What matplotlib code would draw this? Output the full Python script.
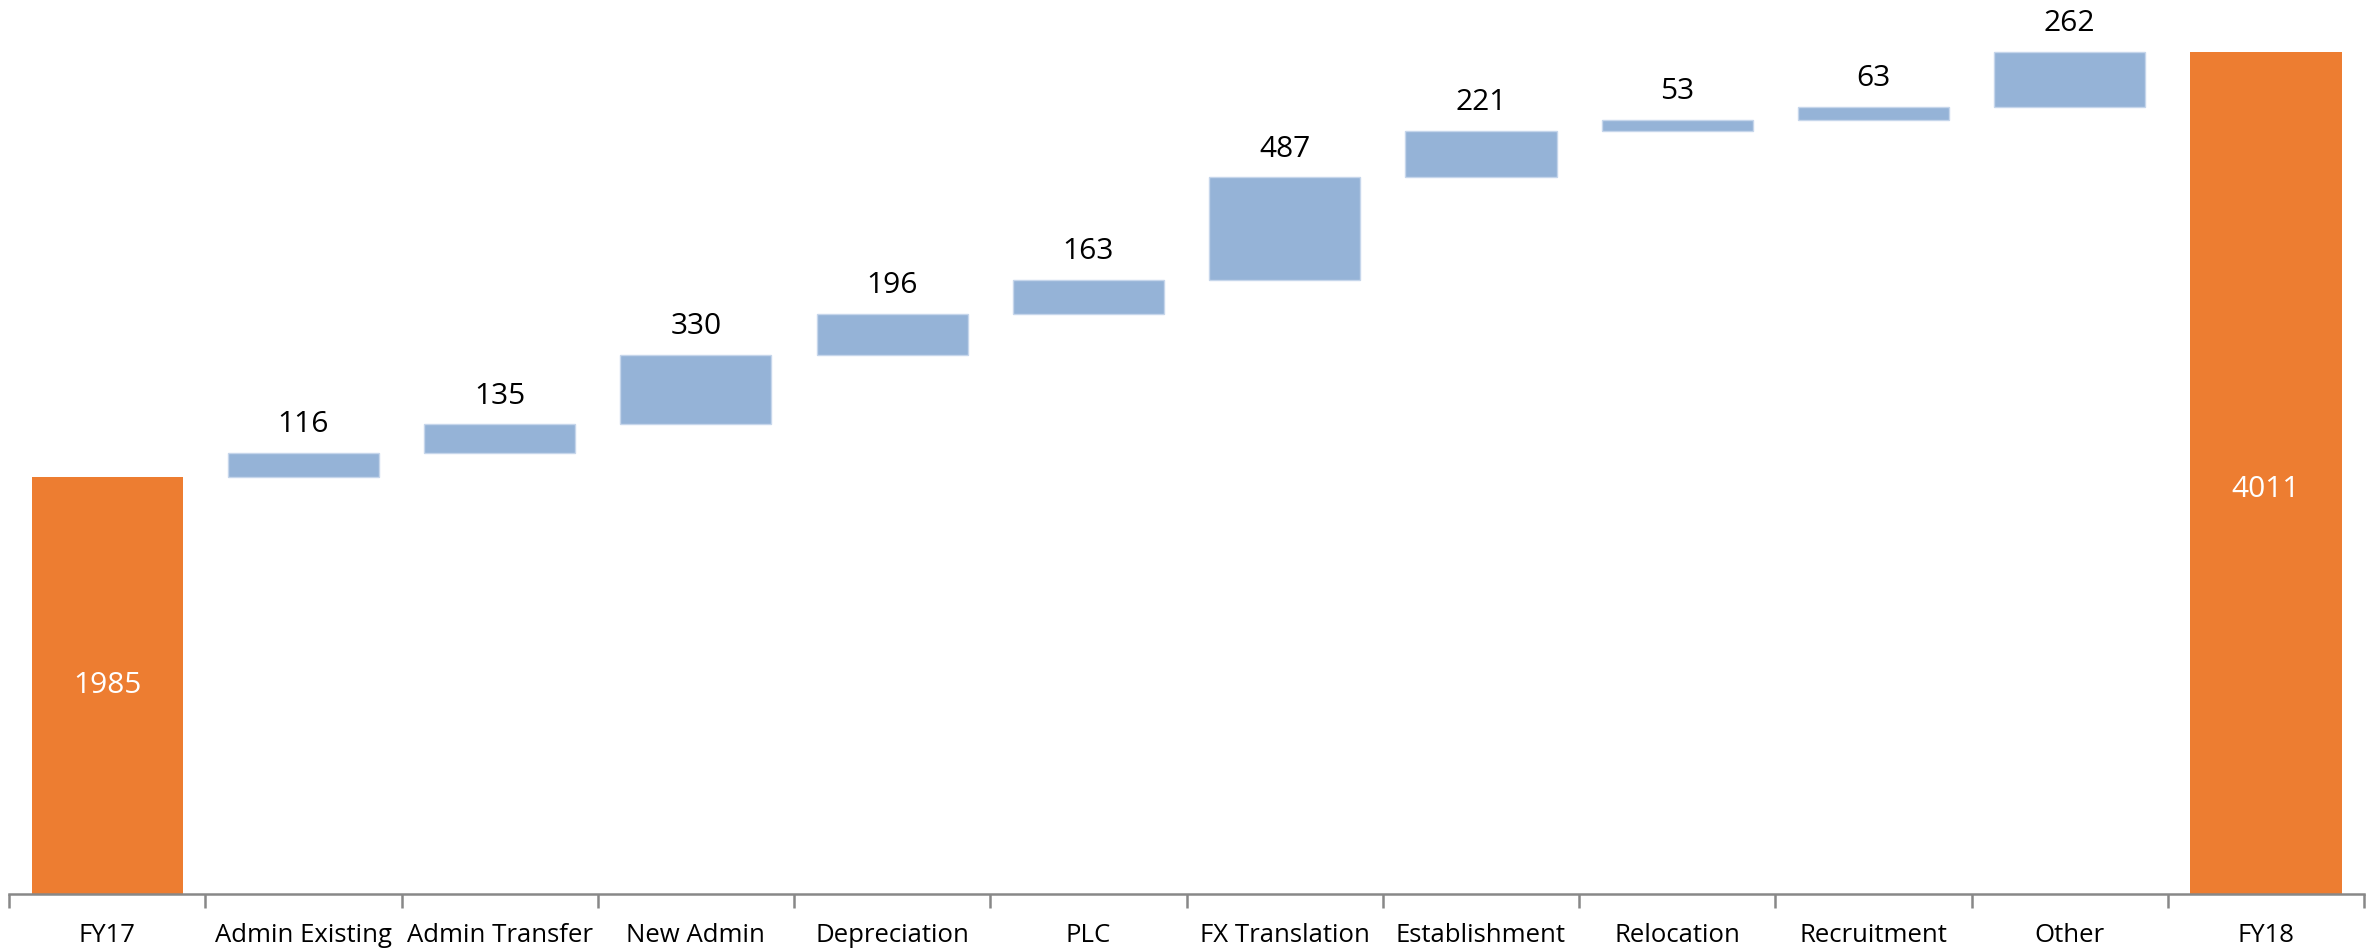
import numpy as np
import matplotlib
matplotlib.use("Agg")
import matplotlib.pyplot as plt

categories = ["FY17", "Admin Existing", "Admin Transfer", "New Admin", "Depreciation",
              "PLC", "FX Translation", "Establishment", "Relocation", "Recruitment",
              "Other", "FY18"]
start_total = 1985
increments = [116, 135, 330, 196, 163, 487, 221, 53, 63, 262]
end_total = 4011

plt.rcParams['font.family'] = ['Open Sans', 'DejaVu Sans']

orange = "#ED7D31"
blue = "#95B3D7"

# cumulative bottoms for the floating bars
bottoms = start_total + np.concatenate([[0], np.cumsum(increments)[:-1]])
x = np.arange(len(categories))

fig = plt.figure(figsize=(23.76, 9.5), dpi=100)
ax = fig.add_axes([0.0038, 0.0589, 0.9912, 0.9411])

bw = 0.77
ax.bar(x[0], start_total, width=bw, color=orange)
ax.bar(x[-1], end_total, width=bw, color=orange)
ax.bar(x[1:-1], increments, bottom=bottoms, width=bw, color=blue,
       edgecolor="#C6D6EB", linewidth=1)

# labels
ax.text(x[0], start_total / 2, str(start_total), color="white", fontsize=21.5,
        ha="center", va="center")
ax.text(x[-1], end_total * 0.48, str(end_total), color="white", fontsize=21.5,
        ha="center", va="center")
for xi, b, v in zip(x[1:-1], bottoms, increments):
    ax.annotate(str(v), (xi, b + v), xytext=(0, 10), textcoords="offset points",
                ha="center", va="bottom", fontsize=21.5, color="black")

ax.set_xlim(-0.5, len(categories) - 0.5)
ax.set_ylim(0, 4257)

for s in ["top", "right", "left"]:
    ax.spines[s].set_visible(False)
ax.spines["bottom"].set_color("#888888")
ax.spines["bottom"].set_linewidth(1.8)
ax.set_yticks([])

ax.set_xticks(x)
ax.set_xticklabels(categories, fontsize=18.5)
ax.tick_params(axis="x", which="major", length=0, pad=21)
ax.set_xticks(np.arange(-0.5, len(categories)), minor=True)
ax.tick_params(axis="x", which="minor", length=10, width=1.8, color="#888888",
               direction="out")

fig.savefig("out.png", dpi=100)
